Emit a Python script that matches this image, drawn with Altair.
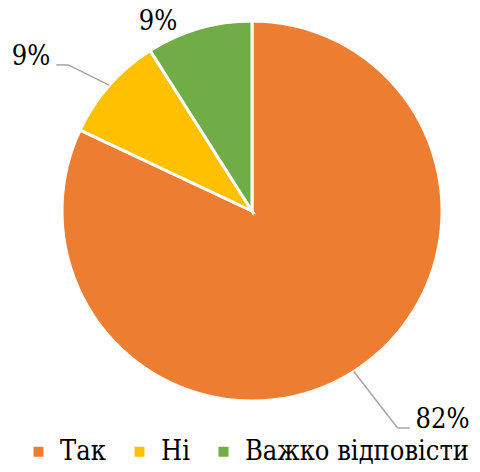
import altair as alt
import pandas as pd

categories = ["Так", "Ні", "Важко відповісти"]
values = [82, 9, 9]
labels = ["82%", "9%", "9%"]
colors = ["#ED7D31", "#FFC000", "#70AD47"]

# label placement (style): radius along slice mid-angle, horizontal shift, alignment, leader line
label_radius = [247.5, 233, 197]
label_shift = [31, -27, -39]
label_align = ["left", "right", "center"]
label_leader = [1, 1, 0]

CX, CY, R = 244, 203, 190
FONT = "DejaVu Serif Condensed, DejaVu Serif"

df = pd.DataFrame({
    "cat": categories, "val": values, "lab": labels, "order": list(range(len(values))),
    "lr": label_radius, "ls": label_shift, "al": label_align, "ld": label_leader,
})

base = alt.Chart(df)

pie = base.mark_arc(outerRadius=R, stroke="white", strokeWidth=3).encode(
    theta=alt.Theta("val:Q", stack=True),
    color=alt.Color(
        "cat:N",
        scale=alt.Scale(domain=categories, range=colors),
        sort=categories,
        legend=alt.Legend(
            title=None, orient="none", direction="horizontal",
            legendX=17, legendY=430, symbolType="square", symbolSize=100,
            symbolStrokeWidth=0, labelFont=FONT, labelFontSize=27, labelColor="#000",
            columnPadding=20, labelOffset=8, padding=0, labelLimit=400,
        ),
    ),
    order=alt.Order("order:Q"),
    x=alt.value(CX), y=alt.value(CY),
)

geo = (
    base.transform_joinaggregate(total="sum(val)")
    .transform_window(cum="sum(val)", sort=[alt.SortField("order")], frame=[None, 0])
    .transform_calculate(m="(datum.cum - datum.val/2)/datum.total*2*PI")
    .transform_calculate(s="sin(datum.m) > 0 ? 1 : -1")
    .transform_calculate(ex=f"{CX} + {R}*sin(datum.m)")
    .transform_calculate(ey=f"{CY} - {R}*cos(datum.m)")
    .transform_calculate(tx=f"{CX} + datum.lr*sin(datum.m) + datum.ls")
    .transform_calculate(ty=f"{CY} - datum.lr*cos(datum.m)")
    .transform_calculate(bx="datum.tx - datum.s*18")
    .transform_calculate(by="datum.ty + 8")
    .transform_calculate(kx="datum.tx - datum.s*6")
)

lead = geo.transform_filter("datum.ld == 1")
line1 = lead.mark_rule(color="#A6A6A6", strokeWidth=1.5).encode(
    x=alt.X("ex:Q", scale=None), y=alt.Y("ey:Q", scale=None),
    x2="bx:Q", y2="by:Q",
)
line2 = lead.mark_rule(color="#A6A6A6", strokeWidth=1.5).encode(
    x=alt.X("bx:Q", scale=None), y=alt.Y("by:Q", scale=None),
    x2="kx:Q", y2="by:Q",
)

texts = []
for a in ["left", "right", "center"]:
    texts.append(
        geo.transform_filter(f"datum.al == '{a}'")
        .mark_text(align=a, baseline="middle", font=FONT, fontSize=27, color="#000")
        .encode(x=alt.X("tx:Q", scale=None), y=alt.Y("ty:Q", scale=None), text="lab:N")
    )

chart = alt.layer(pie, line1, line2, *texts).properties(
    width=464, height=456, padding=0, autosize=alt.AutoSizeParams(type="none"),
    background="white",
).configure_view(stroke=None)

chart.save("out.html", embed_options={"renderer": "svg", "actions": False})
